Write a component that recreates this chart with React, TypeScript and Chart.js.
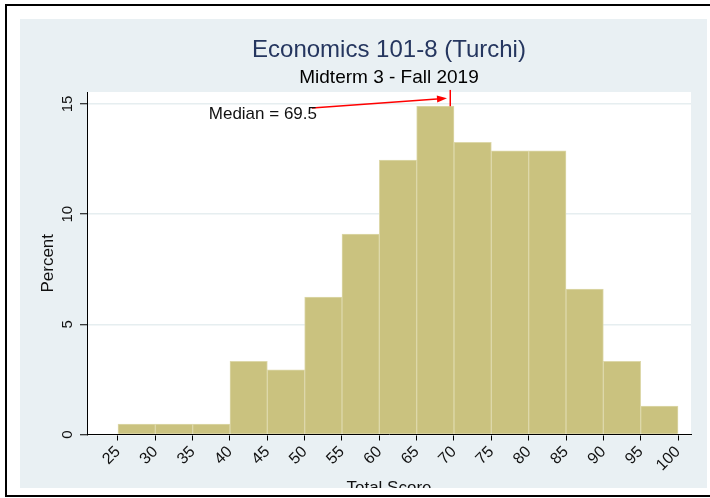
import { useEffect, useRef } from 'react';
import { Chart, registerables } from 'chart.js';

Chart.register(...registerables);

// ---- data ----
const binCenters = [27.5, 32.5, 37.5, 42.5, 47.5, 52.5, 57.5, 62.5, 67.5, 72.5, 77.5, 82.5, 87.5, 92.5, 97.5];
const percents = [0.47, 0.47, 0.47, 3.32, 2.94, 6.24, 9.1, 12.46, 14.91, 13.26, 12.88, 12.88, 6.6, 3.32, 1.29];
const xTicks = [25, 30, 35, 40, 45, 50, 55, 60, 65, 70, 75, 80, 85, 90, 95, 100];
const yTicks = [0, 5, 10, 15];
const medianValue = 69.5;
const medianLabel = 'Median = 69.5';
const titleText = 'Economics 101-8 (Turchi)';
const subtitleText = 'Midterm 3 - Fall 2019';
const xTitle = 'Total Score';
const yTitle = 'Percent';

const FAMILY = '"Liberation Sans", Arial, sans-serif';
const BLUE_BG = '#e9f0f3';

const bgPlugin = {
  id: 'bgPlugin',
  beforeDraw(chart: any) {
    const { ctx, chartArea: a, width, height } = chart;
    ctx.save();
    ctx.fillStyle = BLUE_BG;
    ctx.fillRect(0, 0, width, height);
    ctx.fillStyle = '#ffffff';
    ctx.fillRect(a.left + 1, a.top, a.right - a.left - 1, a.bottom - a.top + 1.5);
    ctx.restore();
  },
};

const medianPlugin = {
  id: 'medianPlugin',
  afterDatasetsDraw(chart: any) {
    const { ctx } = chart;
    const xs = chart.scales.x;
    const ys = chart.scales.y;
    const mx = xs.getPixelForValue(medianValue);
    ctx.save();
    ctx.strokeStyle = '#ff0000';
    ctx.fillStyle = '#ff0000';
    ctx.lineWidth = 1.5;
    // vertical median marker
    ctx.beginPath();
    ctx.moveTo(mx, ys.getPixelForValue(14.9));
    ctx.lineTo(mx, ys.getPixelForValue(15.64));
    ctx.stroke();
    // arrow
    const x1 = xs.getPixelForValue(50.98);
    const y1 = ys.getPixelForValue(14.82);
    const x2 = xs.getPixelForValue(69.06);
    const y2 = ys.getPixelForValue(15.26);
    const ang = Math.atan2(y2 - y1, x2 - x1);
    const hl = 10;
    const hw = 3.5;
    const bx = x2 - hl * Math.cos(ang);
    const by = y2 - hl * Math.sin(ang);
    ctx.beginPath();
    ctx.moveTo(x1, y1);
    ctx.lineTo(bx, by);
    ctx.stroke();
    ctx.beginPath();
    ctx.moveTo(x2, y2);
    ctx.lineTo(bx + hw * Math.sin(ang), by - hw * Math.cos(ang));
    ctx.lineTo(bx - hw * Math.sin(ang), by + hw * Math.cos(ang));
    ctx.closePath();
    ctx.fill();
    // label
    ctx.fillStyle = '#111111';
    ctx.font = `17px ${FAMILY}`;
    ctx.textAlign = 'right';
    ctx.textBaseline = 'middle';
    ctx.fillText(medianLabel, xs.getPixelForValue(51.65), ys.getPixelForValue(14.55));
    ctx.restore();
  },
};

export default function App() {
  const ref = useRef<HTMLCanvasElement>(null);

  useEffect(() => {
    const chart = new Chart(ref.current as HTMLCanvasElement, {
      type: 'bar',
      data: {
        datasets: [
          {
            data: binCenters.map((x, i) => ({ x, y: percents[i] })),
            backgroundColor: '#cac27f',
            borderColor: '#ddd8aa',
            borderWidth: 1,
            barPercentage: 1,
            categoryPercentage: 1,
          },
        ],
      },
      options: {
        animation: false,
        responsive: false,
        devicePixelRatio: 1,
        layout: { padding: { top: 0, left: 0, right: 16, bottom: 0 } },
        plugins: {
          legend: { display: false },
          tooltip: { enabled: false },
          title: {
            display: true,
            text: titleText,
            color: '#25365f',
            font: { size: 24, weight: 'normal', family: FAMILY },
            padding: { top: 16.6, bottom: 0 },
            fullSize: false,
          },
          subtitle: {
            display: true,
            text: subtitleText,
            color: '#000000',
            font: { size: 19, weight: 'normal', family: FAMILY },
            padding: { top: 1.7, bottom: 3.1 },
            fullSize: false,
          },
        },
        scales: {
          x: {
            type: 'linear',
            offset: false,
            min: 20.85,
            max: 101.74,
            afterBuildTicks: (s: any) => {
              s.ticks = xTicks.map((v) => ({ value: v }));
            },
            afterFit: (s: any) => {
              s.height = 64.5;
            },
            grid: { drawOnChartArea: false, offset: false, tickLength: 6, tickColor: '#000000', tickWidth: 1 },
            border: { display: true, color: '#000000', width: 1, z: 1 },
            ticks: {
              minRotation: 45,
              maxRotation: 45,
              padding: 2,
              autoSkip: false,
              color: '#111111',
              font: { size: 16, family: FAMILY },
            },
            title: {
              display: true,
              text: xTitle,
              color: '#111111',
              font: { size: 17, family: FAMILY },
              padding: { top: 0, bottom: 0.8 },
            },
          },
          y: {
            min: 0,
            max: 15.546,
            afterBuildTicks: (s: any) => {
              s.ticks = yTicks.map((v) => ({ value: v }));
            },
            afterFit: (s: any) => {
              s.width = 67;
            },
            grid: { color: '#e6eef0', lineWidth: 1.5, tickLength: 7, tickColor: '#000000', tickWidth: 1 },
            border: { display: true, color: '#000000', width: 1, z: 1 },
            ticks: {
              minRotation: 90,
              maxRotation: 90,
              crossAlign: 'center',
              padding: 4,
              color: '#111111',
              font: { size: 15, family: FAMILY },
            },
            title: {
              display: true,
              text: yTitle,
              color: '#111111',
              font: { size: 17, family: FAMILY },
              padding: { top: 17.8, bottom: 0 },
            },
          },
        },
      } as any,
      plugins: [bgPlugin, medianPlugin],
    });
    return () => chart.destroy();
  }, []);

  return (
    <div style={{ position: 'absolute', left: 0, top: 0, width: 710, height: 498, background: '#ffffff', overflow: 'hidden' }}>
      <div
        style={{
          position: 'absolute',
          left: 5,
          top: 4,
          width: 720,
          height: 493,
          border: '2px solid #000000',
          boxSizing: 'border-box',
        }}
      />
      <div style={{ position: 'absolute', left: 20, top: 19, width: 687, height: 469, overflow: 'hidden', background: BLUE_BG }}>
        <canvas ref={ref} width={687} height={480} style={{ display: 'block' }} />
      </div>
    </div>
  );
}
